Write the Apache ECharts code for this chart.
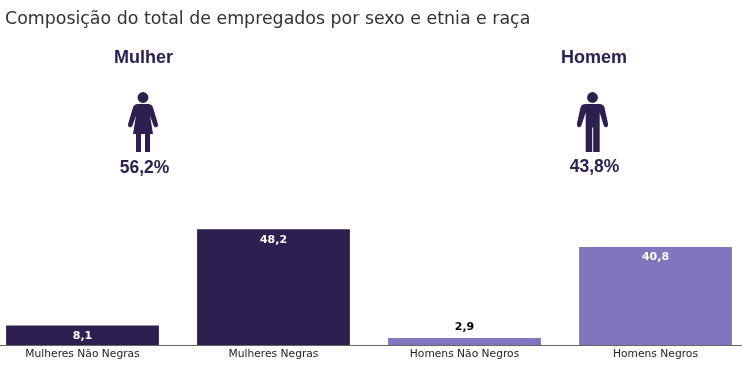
<!DOCTYPE html>
<html>
<head>
<meta charset="utf-8">
<title>Composição do total de empregados</title>
<style>
  html, body { margin: 0; padding: 0; background: #fff; }
  #chart { width: 742px; height: 373px; }
</style>
<script src="https://cdn.jsdelivr.net/npm/echarts@6/dist/echarts.min.js"></script>
</head>
<body>
<div id="chart"></div>
<script>
const titleText = 'Composição do total de empregados por sexo e etnia e raça';
const categories = ['Mulheres Não Negras', 'Mulheres Negras', 'Homens Não Negros', 'Homens Negros'];
const values = [8.1, 48.2, 2.9, 40.8];
const groupNames = ['Mulher', 'Homem'];
const groupShares = ['56,2%', '43,8%'];

const DARK = '#2d2050';
const LIGHT = '#8275bd';

// pictogramas: coordenadas locais com origem no centro da cabeça
const womanPath = 'M-5,6.5 L5,6.5 Q9,6.5 10,10 L14.8,26 Q15.5,29 13.5,29.8 Q11.5,30.2 10.5,28 L7,18 L10,36.5 L7,36.5 L7,54.5 L2,54.5 L2,36.5 L-2,36.5 L-2,54.5 L-7,54.5 L-7,36.5 L-10,36.5 L-7,18 L-10.5,28 Q-11.5,30.2 -13.5,29.8 Q-15.5,29 -14.8,26 L-10,10 Q-9,6.5 -5,6.5 Z';
const manPath = 'M-7,6.5 L7,6.5 Q11,6.5 12,10 L15.5,26 Q16,29 14,29.8 Q11.8,30.2 11,27.5 L7.2,15 L7.2,54.5 L0.7,54.5 L0.7,30 L-0.3,30 L-0.3,54.5 L-6.8,54.5 L-6.8,15 L-11,27.5 Q-11.8,30.2 -14,29.8 Q-16,29 -15.5,26 L-12,10 Q-11,6.5 -7,6.5 Z';

echarts.graphic.registerShape('womanBody', echarts.graphic.extendPath(womanPath, {}));
echarts.graphic.registerShape('manBody', echarts.graphic.extendPath(manPath, {}));

const person = (x, y, bodyType) => ({
  type: 'group',
  x: x,
  y: y,
  children: [
    { type: 'circle', shape: { cx: 0, cy: 0, r: 5.4 }, style: { fill: DARK } },
    { type: bodyType, style: { fill: DARK } }
  ]
});

const label = (x, y, text, size) => ({
  type: 'text',
  x: x,
  y: y,
  style: {
    text: text,
    fill: DARK,
    font: 'bold ' + size + 'px "Liberation Sans", Arial, sans-serif',
    align: 'center',
    verticalAlign: 'middle'
  }
});

const chart = echarts.init(document.getElementById('chart'), null, { renderer: 'canvas' });

chart.setOption({
  animation: false,
  backgroundColor: '#fff',
  title: {
    text: titleText,
    left: 0,
    top: 6,
    textStyle: {
      color: '#333',
      fontFamily: 'DejaVu Sans',
      fontWeight: 'normal',
      fontSize: 17.4
    }
  },
  // a grade passa das bordas de propósito: a primeira barra começa em x=6
  grid: { left: -13, right: -9, top: 201, bottom: 28, outerBoundsMode: 'none' },
  xAxis: {
    type: 'category',
    data: categories,
    axisLine: { lineStyle: { color: '#666', width: 1 } },
    axisTick: { alignWithLabel: true, length: 2, lineStyle: { color: '#111' } },
    axisLabel: { color: '#222', fontFamily: 'DejaVu Sans', fontSize: 10.7, margin: 4 }
  },
  yAxis: { type: 'value', min: 0, max: 60, show: false },
  series: [{
    type: 'bar',
    barWidth: '80%',
    data: values.map((v, i) => ({
      value: v,
      itemStyle: { color: i < 2 ? DARK : LIGHT },
      label: v < 5
        ? { position: 'top', color: '#000', distance: 5 }
        : { position: 'insideTop', color: '#fff', distance: 5 }
    })),
    label: {
      show: true,
      fontFamily: 'DejaVu Sans',
      fontWeight: 'bold',
      fontSize: 11,
      formatter: p => String(p.value).replace('.', ',')
    }
  }],
  graphic: [
    label(143.5, 58, groupNames[0], 18),
    label(594, 58, groupNames[1], 18),
    person(143, 97.5, 'womanBody'),
    person(592.5, 97.5, 'manBody'),
    label(144.5, 168, groupShares[0], 17.5),
    label(594.5, 167, groupShares[1], 17.5)
  ]
});

window.addEventListener('resize', () => chart.resize());
</script>
</body>
</html>
